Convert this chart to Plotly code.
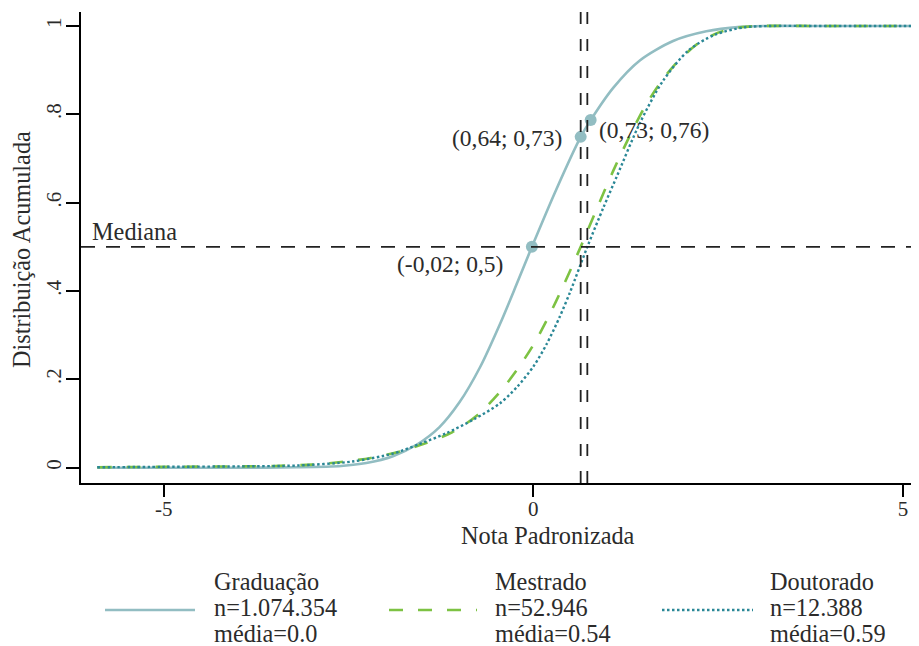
import plotly.graph_objects as go

# ---------------- data ----------------
grad_x = [-5.9, -5.0, -4.0, -3.2, -2.6, -2.26, -1.9, -1.58, -1.27, -1.0, -0.72, -0.45,
          -0.23, -0.02, 0.31, 0.64, 0.775, 1.08, 1.44, 1.89, 2.34, 2.8, 3.1, 4.0, 5.15]
grad_y = [0.0, 0.0, 0.0, 0.001, 0.004, 0.0105, 0.026, 0.052, 0.092, 0.148, 0.228, 0.326,
          0.414, 0.5, 0.63, 0.749, 0.787, 0.86, 0.922, 0.966, 0.988, 0.998, 1.0, 1.0, 1.0]

mest_x = [-5.9, -5.0, -4.0, -3.5, -3.0, -2.6, -2.2, -1.8, -1.5, -1.1, -0.75, -0.45,
          -0.22, 0.0, 0.2, 0.4, 0.64, 0.85, 1.08, 1.3, 1.5, 1.7, 1.9, 2.2, 2.5, 2.8,
          3.1, 4.0, 5.15]
mest_y = [0.001, 0.002, 0.003, 0.004, 0.007, 0.013, 0.022, 0.037, 0.053, 0.08, 0.12,
          0.172, 0.222, 0.278, 0.34, 0.41, 0.5, 0.583, 0.672, 0.75, 0.815, 0.867, 0.91,
          0.957, 0.985, 0.997, 1.0, 1.0, 1.0]

dout_x = [-5.9, -5.0, -4.0, -3.2, -2.45, -1.9, -1.55, -1.18, -0.8, -0.45, -0.22, 0.0,
          0.18, 0.36, 0.5, 0.73, 0.95, 1.13, 1.44, 1.75, 2.1, 2.45, 2.85, 3.2, 4.0, 5.15]
dout_y = [0.001, 0.002, 0.003, 0.005, 0.014, 0.032, 0.053, 0.078, 0.11, 0.146, 0.183,
          0.229, 0.28, 0.343, 0.399, 0.5, 0.59, 0.66, 0.78, 0.875, 0.945, 0.98, 0.997,
          1.0, 1.0, 1.0]

median_y = 0.5
median_label = "Mediana"
vline_x = [0.64, 0.73]

point_x = [-0.02, 0.64, 0.775]
point_y = [0.5, 0.749, 0.787]
point_labels = ["(-0,02; 0,5)", "(0,64; 0,73)", "(0,73; 0,76)"]

series_names = ["Graduação", "Mestrado", "Doutorado"]
series_n = ["n=1.074.354", "n=52.946", "n=12.388"]
series_mean = ["média=0.0", "média=0.54", "média=0.59"]

x_ticks = [-5, 0, 5]
x_ticklabels = ["-5", "0", "5"]
y_ticks = [0, 0.2, 0.4, 0.6, 0.8, 1]
y_ticklabels = ["0", ".2", ".4", ".6", ".8", "1"]

x_title = "Nota Padronizada"
y_title = "Distribuição Acumulada"

# ---------------- styling ----------------
FONT = "Liberation Serif"
TXT = "#2b2b2b"
C_GRAD = "#92bdc2"
C_MEST = "#7dc243"
C_DOUT = "#2a8796"

OFF = 8                      # default page body margin
SW, SH = 919, 646            # screen size
PL, PR, PT, PB = 81, 917, 12, 483   # plot area in screen pixels
W, H = SW - OFF, SH - OFF
ML, MT = PL - OFF, PT - OFF
MR, MB = SW - PR, SH - PB


def pxx(sx):
    return (sx - PL) / (PR - PL)


def pxy(sy):
    return (PB - sy) / (PB - PT)


fig = go.Figure()

styles = [
    dict(color=C_GRAD, width=2.6, dash="solid"),
    dict(color=C_MEST, width=2.6, dash="14px,15px"),
    dict(color=C_DOUT, width=2.4, dash="2.5px,2.5px"),
]
for xs, ys, nm, st in zip([grad_x, mest_x, dout_x], [grad_y, mest_y, dout_y],
                          series_names, styles):
    fig.add_trace(go.Scatter(x=xs, y=ys, mode="lines", name=nm,
                             line=dict(shape="spline", smoothing=0.8, **st),
                             showlegend=False, hoverinfo="skip"))

fig.add_trace(go.Scatter(x=point_x, y=point_y, mode="markers",
                         marker=dict(size=12, color=C_GRAD),
                         showlegend=False, hoverinfo="skip"))

shapes = []
shapes.append(dict(type="line", xref="paper", yref="y", x0=0, x1=1,
                   y0=median_y, y1=median_y,
                   line=dict(color="#222222", width=1.8, dash="14px,11px")))
for vx in vline_x:
    shapes.append(dict(type="line", xref="x", yref="paper", x0=vx, x1=vx,
                       y0=0, y1=1,
                       line=dict(color="#222222", width=1.8, dash="12px,15px")))

# legend (drawn manually)
leg_line_px = [(105, 195), (389, 477), (662, 753)]
leg_text_px = [213, 494, 769]
leg_line_py = 610
for (a, b), st in zip(leg_line_px, styles):
    shapes.append(dict(type="line", xref="paper", yref="paper",
                       x0=pxx(a), x1=pxx(b), y0=pxy(leg_line_py), y1=pxy(leg_line_py),
                       line=dict(color=st["color"], width=st["width"], dash=st["dash"])))

ann = []
fs = 24.3
fs_pt = 23.5
ann.append(dict(text=median_label, xref="paper", yref="y", x=pxx(91), y=median_y,
                xanchor="left", yanchor="middle", yshift=15, showarrow=False,
                borderpad=0, font=dict(family=FONT, size=fs, color=TXT)))
shifts = [(-28, -17, "right"), (-18, -1, "right"), (7, -10, "left")]
for px_, py_, lab, (dx, dy, anc) in zip(point_x, point_y, point_labels, shifts):
    ann.append(dict(text=lab, x=px_, y=py_, xref="x", yref="y", xanchor=anc,
                    yanchor="middle", xshift=dx, yshift=dy, showarrow=False,
                    borderpad=0, font=dict(family=FONT, size=fs_pt, color=TXT)))

ann.append(dict(text=x_title, xref="paper", yref="paper", x=pxx(548.3), y=pxy(535),
                xanchor="center", yanchor="middle", showarrow=False, borderpad=0,
                font=dict(family=FONT, size=fs, color=TXT)))
ann.append(dict(text=y_title, xref="paper", yref="paper", x=pxx(21), y=pxy(250),
                xanchor="center", yanchor="middle", textangle=-90, showarrow=False,
                borderpad=0, font=dict(family=FONT, size=fs, color=TXT)))

rows_py = [581.5, 607.5, 633.5]
for i in range(3):
    for txt, py_ in zip([series_names[i], series_n[i], series_mean[i]], rows_py):
        ann.append(dict(text=txt, xref="paper", yref="paper", x=pxx(leg_text_px[i]),
                        y=pxy(py_), xanchor="left", yanchor="middle", showarrow=False,
                        borderpad=0, font=dict(family=FONT, size=fs, color=TXT)))

fig.update_layout(
    width=W, height=H,
    margin=dict(l=ML, r=MR, t=MT, b=MB),
    paper_bgcolor="white", plot_bgcolor="white",
    shapes=shapes, annotations=ann, showlegend=False,
    font=dict(family=FONT, color=TXT),
    xaxis=dict(range=[-6.12, 5.19], tickvals=x_ticks, ticktext=x_ticklabels,
               showgrid=False, zeroline=False, showline=True, linecolor="black",
               linewidth=2, ticks="outside", ticklen=12, tickwidth=1.8,
               tickcolor="black", ticklabelstandoff=-6,
               tickfont=dict(family=FONT, size=21, color=TXT)),
    yaxis=dict(range=[-0.0346, 1.0317], tickvals=y_ticks, ticktext=y_ticklabels,
               showgrid=False, zeroline=False, showline=True, linecolor="black",
               linewidth=2, ticks="outside", ticklen=13, tickwidth=1.8,
               tickcolor="black", tickangle=-90, ticklabelstandoff=-3,
               tickfont=dict(family=FONT, size=21, color=TXT)),
)

fig.write_html("out.html")
